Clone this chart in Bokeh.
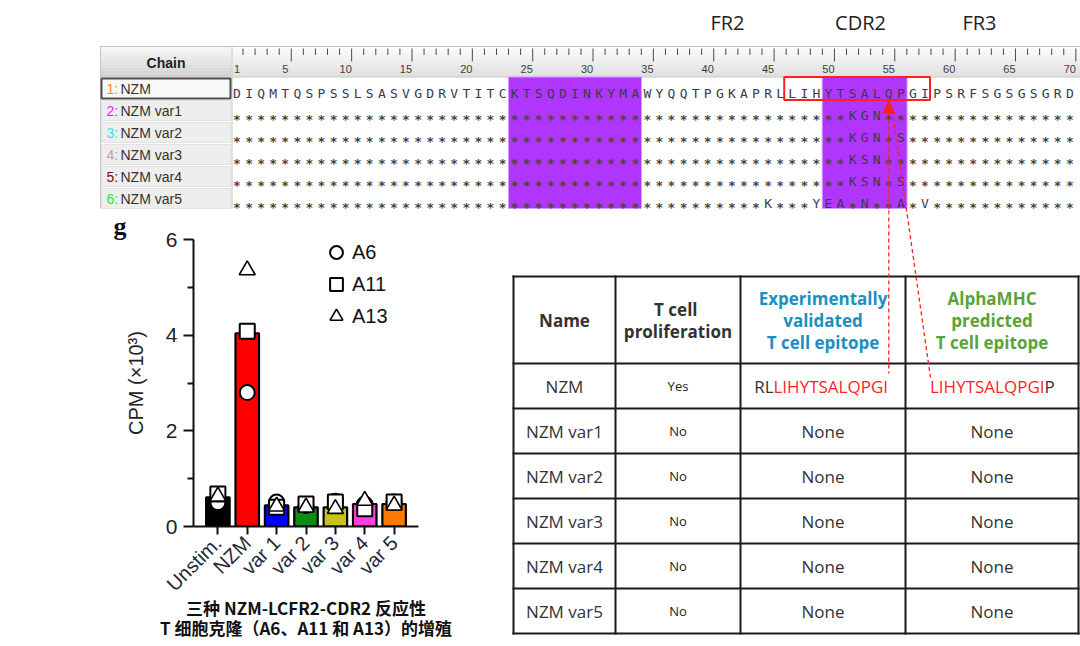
import math
from bokeh.plotting import figure
from bokeh.models import (Range1d, FactorRange, FixedTicker, Legend, LegendItem,
                          ColumnDataSource, Title)
from bokeh.layouts import column, row
from bokeh.embed import file_html
from bokeh.resources import INLINE
from bokeh.core.properties import value

# ---------------------------------------------------------------- data
chain_names = ["NZM", "NZM var1", "NZM var2", "NZM var3", "NZM var4", "NZM var5"]
chain_colors = ["#ff8a1c", "#f01ef0", "#2ee6e6", "#c99a9a", "#7a0c0c", "#2ee62e"]
nzm_sequence = "DIQMTQSPSSLSASVGDRVTITCKTSQDINKYMAWYQQTPGKAPRLLIHYTSALQPGIPSRFSGSGSGRD"
variant_mutations = [
    {52: "K", 53: "G", 54: "N"},
    {52: "K", 53: "G", 54: "N", 56: "S"},
    {52: "K", 53: "S", 54: "N"},
    {52: "K", 53: "S", 54: "N", 56: "S"},
    {45: "K", 49: "Y", 50: "E", 51: "A", 53: "N", 56: "A", 58: "V"},
]
ruler_labels = [1, 5, 10, 15, 20, 25, 30, 35, 40, 45, 50, 55, 60, 65, 70]
cdr_spans = [(24, 34), (50, 56)]
epitope_span = (47, 58)
arrow_residue = 55
region_labels = ["FR2", "CDR2", "FR3"]

categories = ["Unstim.", "NZM", "var 1", "var 2", "var 3", "var 4", "var 5"]
cpm_mean = [0.61, 4.04, 0.44, 0.40, 0.40, 0.47, 0.47]
cpm_a6 = [0.50, 2.80, 0.51, 0.44, 0.53, 0.47, 0.51]
cpm_a11 = [0.68, 4.08, 0.40, 0.47, 0.51, 0.37, 0.51]
cpm_a13 = [0.63, 5.36, 0.42, 0.40, 0.37, 0.54, 0.44]
bar_colors = ["#000000", "#ff0000", "#0000ff", "#0e8a16", "#c9c21a", "#ff3fe0", "#ff7a00"]

table_header = [["Name"], ["T  cell", "proliferation"],
                ["Experimentally", "validated", "T cell epitope"],
                ["AlphaMHC", "predicted", "T cell epitope"]]
table_header_colors = ["#333333", "#333333", "#1a8fc0", "#5aa33a"]
table_prolif = ["Yes", "No", "No", "No", "No", "No"]
table_exp = ["RLLIHYTSALQPGI", "None", "None", "None", "None", "None"]
table_pred = ["LIHYTSALQPGIP", "None", "None", "None", "None", "None"]
core_epitope = "LIHYTSALQPGI"
caption_lines = ["三种 NZM-LCFR2-CDR2 反应性", "T 细胞克隆（A6、A11 和 A13）的增殖"]

RED = "#ff1f1f"


def canvas(width, height, x0, x1, y0, y1):
    f = figure(width=width, height=height, x_range=Range1d(x0, x1), y_range=Range1d(y1, y0),
               output_backend="svg", toolbar_location=None, min_border=0,
               x_axis_location=None, y_axis_location=None, outline_line_color=None,
               frame_align=False)
    f.grid.visible = False
    return f


# ---------------------------------------------------------------- top: alignment
X0, STEP = 236.5, 12.07


def col_x(i):
    return X0 + (i - 1) * STEP


ROW_Y0, ROW_H = 88, 22
top = canvas(1080, 213, 0, 1080, 0, 213)

ns = 10
hl, hr, ht, hb, hc = [], [], [], [], []
for k in range(ns):
    t = k / (ns - 1)
    y0 = 46 + k * 3
    g = int(252 - 28 * t)
    g2 = int(246 - 34 * t)
    hl += [232, 100]; hr += [1080, 231]; ht += [y0, y0]; hb += [y0 + 3.2, y0 + 3.2]
    hc += ["#%02x%02x%02x" % (g, g, g), "#%02x%02x%02x" % (g2, g2, g2)]
top.quad(left=hl, right=hr, top=ht, bottom=hb, fill_color=hc, line_color=None)
top.segment(x0=[100, 100, 100, 231.5], y0=[46, 76.5, 46, 46], x1=[1080, 1080, 100, 231.5],
            y1=[46, 76.5, 208, 208], line_color="#c4c4c4", line_width=1)
top.text(x=[165.5], y=[62], text=["Chain"], text_font=value("Liberation Sans"),
         text_font_style="bold", text_font_size="14px", text_align="center",
         text_baseline="middle", text_color="#1e1e1e")

tx0, ty0, tx1, ty1 = [], [], [], []
for i in range(1, len(nzm_sequence) + 1):
    xx = col_x(i) + 6
    tx0.append(xx); tx1.append(xx); ty0.append(48)
    ty1.append(61 if i % 5 == 0 else 54.5)
top.segment(x0=tx0, y0=ty0, x1=tx1, y1=ty1, line_color="#4a4a4a", line_width=1)
top.text(x=[col_x(n) for n in ruler_labels], y=[68] * len(ruler_labels),
         text=[str(n) for n in ruler_labels], text_font=value("Liberation Sans"),
         text_font_size="11px", text_align="center", text_baseline="middle", text_color="#3d3d3d")

ys = [ROW_Y0 + k * ROW_H for k in range(len(chain_names))]
top.quad(left=[101] * 6, right=[230] * 6, top=[y - 10 for y in ys], bottom=[y + 10 for y in ys],
         fill_color=["#f8f8f8"] + ["#eeeeee"] * 5, line_color=["#505050"] + ["#e2e2e2"] * 5,
         line_width=[2] + [1] * 5)
top.text(x=[106] * 6, y=ys, text=[f"{k + 1}:" for k in range(6)], text_color=chain_colors,
         text_font=value("Liberation Sans"), text_font_size="14px", text_baseline="middle")
top.text(x=[120] * 6, y=ys, text=chain_names, text_color="#333333",
         text_font=value("Liberation Sans"), text_font_size="14px", text_baseline="middle")

top.quad(left=[col_x(a) - 6.2 for a, b in cdr_spans], right=[col_x(b) + 6.2 for a, b in cdr_spans],
         top=[76.5] * 2, bottom=[208] * 2, fill_color="#b136fd", line_color="#d59bff", line_width=1)

lx, ly, lt, ax_, ay_ = [], [], [], [], []
for i, ch in enumerate(nzm_sequence, start=1):
    lx.append(col_x(i)); ly.append(ys[0] + 5); lt.append(ch)
for k, muts in enumerate(variant_mutations):
    yy = ys[k + 1]
    for i in range(1, len(nzm_sequence) + 1):
        if i in muts:
            lx.append(col_x(i)); ly.append(yy + 5); lt.append(muts[i])
        else:
            ax_.append(col_x(i)); ay_.append(yy + 8.5)
top.text(x=lx, y=ly, text=lt, text_font=value("DejaVu Sans Mono"), text_font_size="13px",
         text_align="center", text_baseline="alphabetic", text_color="#3a3a48")
top.text(x=ax_, y=ay_, text=["*"] * len(ax_), text_font=value("DejaVu Sans Mono"),
         text_font_style="bold", text_font_size="13px", text_align="center",
         text_baseline="alphabetic", text_color="#4a423a")

top.quad(left=[col_x(epitope_span[0]) - 8], right=[col_x(epitope_span[1]) + 5], top=[76.5],
         bottom=[99.5], fill_color=None, line_color=RED, line_width=2)

top.text(x=[727, 860, 979], y=[22] * 3, text=region_labels, text_font=value("Open Sans"),
         text_font_size="20px", text_align="center", text_baseline="middle", text_color="#222222")

ax_x = col_x(arrow_residue)


def connectors(f):
    f.segment(x0=[ax_x, ax_x + 3.5], y0=[112, 110], x1=[ax_x, 930], y1=[373, 377],
              line_color=RED, line_width=1.3, line_dash="4 3")


connectors(top)
top.patch(x=[ax_x - 6, ax_x + 6, ax_x], y=[113, 113, 100], fill_color=RED, line_color=RED)

# ---------------------------------------------------------------- bar chart
bar = figure(width=500, height=432,
             x_range=FactorRange(factors=categories, range_padding=0.33,
                                 range_padding_units="absolute"),
             y_range=Range1d(0, 6), output_backend="svg", toolbar_location=None,
             min_border_left=193, min_border_right=82, min_border_top=26, min_border_bottom=119,
             outline_line_color=None, frame_align=False)
bar.grid.visible = False
src = ColumnDataSource(dict(cat=categories, mean=cpm_mean, a6=cpm_a6, a11=cpm_a11,
                            a13=cpm_a13, color=bar_colors))
bar.vbar(x="cat", top="mean", width=0.8, source=src, fill_color="color",
         line_color="black", line_width=2.2)
r6 = bar.scatter(x="cat", y="a6", source=src, marker="circle", size=15, fill_color="white",
                 line_color="black", line_width=2)
r11 = bar.scatter(x="cat", y="a11", source=src, marker="square", size=15, fill_color="white",
                  line_color="black", line_width=2)
r13 = bar.scatter(x="cat", y="a13", source=src, marker="triangle", size=16, fill_color="white",
                  line_color="black", line_width=1.6)

for axis in (bar.xaxis[0], bar.yaxis[0]):
    axis.axis_line_width = 2
    axis.axis_line_color = "#111111"
    axis.major_tick_line_width = 2
    axis.major_tick_line_color = "#111111"
    axis.major_tick_in = 0
    axis.major_label_text_font = "Liberation Sans"
    axis.major_label_text_color = "#222222"

bar.xaxis.major_label_orientation = math.pi / 4
bar.xaxis.major_label_text_font_size = "20px"
bar.xaxis.major_label_text_color = "#222a38"
bar.xaxis.major_tick_out = 8
bar.xaxis.major_label_standoff = 5
bar.yaxis.ticker = FixedTicker(ticks=[0, 2, 4, 6], minor_ticks=[1, 3, 5])
bar.yaxis.major_tick_out = 10
bar.yaxis.minor_tick_out = 6
bar.yaxis.minor_tick_in = 0
bar.yaxis.minor_tick_line_width = 2
bar.yaxis.minor_tick_line_color = "#111111"
bar.yaxis.major_label_text_font_size = "21px"
bar.yaxis.major_label_standoff = 6
bar.yaxis.axis_label = "CPM (×10³)"
bar.yaxis.axis_label_text_font = "Liberation Sans"
bar.yaxis.axis_label_text_font_style = "normal"
bar.yaxis.axis_label_text_font_size = "20px"
bar.yaxis.axis_label_text_color = "#222222"
bar.yaxis.axis_label_standoff = 16

# panel letter
bar.title.text = "g"
bar.title.text_font = "Liberation Serif"
bar.title.text_font_style = "bold"
bar.title.text_font_size = "26px"
bar.title.text_color = "#111111"
bar.title.align = "left"
bar.title.vertical_align = "top"
bar.title.offset = -80
bar.title.standoff = -6

legend = Legend(items=[LegendItem(label="A6", renderers=[r6]),
                       LegendItem(label="A11", renderers=[r11]),
                       LegendItem(label="A13", renderers=[r13])],
                location=(127, 194), glyph_width=32, glyph_height=32, spacing=0,
                padding=0, margin=0, label_standoff=0, label_text_font_size="20px",
                label_text_font="Liberation Sans", label_text_color="#111111",
                border_line_color=None, background_fill_alpha=0)
bar.add_layout(legend)

# caption under the bar chart
for txt, off, so in zip(caption_lines, [11, 13], [-26, 12]):
    bar.add_layout(Title(text=txt, align="center", offset=off, standoff=so,
                         text_font="Noto Sans CJK SC", text_font_style="bold",
                         text_font_size="17px", text_color="#111111"), "below")

# ---------------------------------------------------------------- table
tbl = canvas(580, 432, 500, 1080, 213, 645)
h_lines = [276, 363, 408, 453, 498, 543, 588, 633]
v_lines = [513, 615, 740, 905, 1078]
tbl.segment(x0=[v_lines[0]] * len(h_lines), x1=[v_lines[-1]] * len(h_lines), y0=h_lines,
            y1=h_lines, line_color="#1a1a1a", line_width=2, line_cap="square")
tbl.segment(x0=v_lines, x1=v_lines, y0=[h_lines[0]] * len(v_lines),
            y1=[h_lines[-1]] * len(v_lines), line_color="#1a1a1a", line_width=2, line_cap="square")
col_c = [(v_lines[j] + v_lines[j + 1]) / 2 for j in range(4)]
hx, hy, ht_, hcol = [], [], [], []
for j, lines in enumerate(table_header):
    n = len(lines)
    for m, ln in enumerate(lines):
        hx.append(col_c[j]); hy.append(319.5 + (m - (n - 1) / 2) * 22)
        ht_.append(ln); hcol.append(table_header_colors[j])
tbl.text(x=hx, y=hy, text=ht_, text_color=hcol, text_font=value("Open Sans"),
         text_font_style="bold", text_font_size="17px", text_align="center", text_baseline="middle")

row_c = [(h_lines[r + 1] + h_lines[r + 2]) / 2 for r in range(6)]
tbl.text(x=[col_c[0]] * 6, y=row_c, text=chain_names, text_color="#333333",
         text_font=value("Open Sans"), text_font_size="17px", text_align="center",
         text_baseline="middle")
tbl.text(x=[col_c[1]] * 6, y=row_c, text=table_prolif, text_color="#222222",
         text_font=value("Open Sans"), text_font_size="13px", text_align="center",
         text_baseline="middle")

for j, vals, split in ((2, table_exp, 773), (3, table_pred, 1044)):
    for r, s in enumerate(vals):
        if core_epitope in s:
            pre, post = s.split(core_epitope, 1)
            if pre:
                parts = [(pre, "#333333", "right"), (core_epitope, RED, "left")]
            else:
                parts = [(core_epitope, RED, "right"), (post, "#333333", "left")]
            for txt, colr, al in parts:
                tbl.text(x=[split], y=[row_c[r]], text=[txt], text_color=colr,
                         text_font=value("Open Sans"), text_font_size="17px",
                         text_align=al, text_baseline="middle")
        else:
            tbl.text(x=[col_c[j]], y=[row_c[r]], text=[s], text_color="#333333",
                     text_font=value("Open Sans"), text_font_size="17px",
                     text_align="center", text_baseline="middle")

connectors(tbl)

layout = column(top, row(bar, tbl))
open("out.html", "w").write(file_html(layout, INLINE, "chart"))
